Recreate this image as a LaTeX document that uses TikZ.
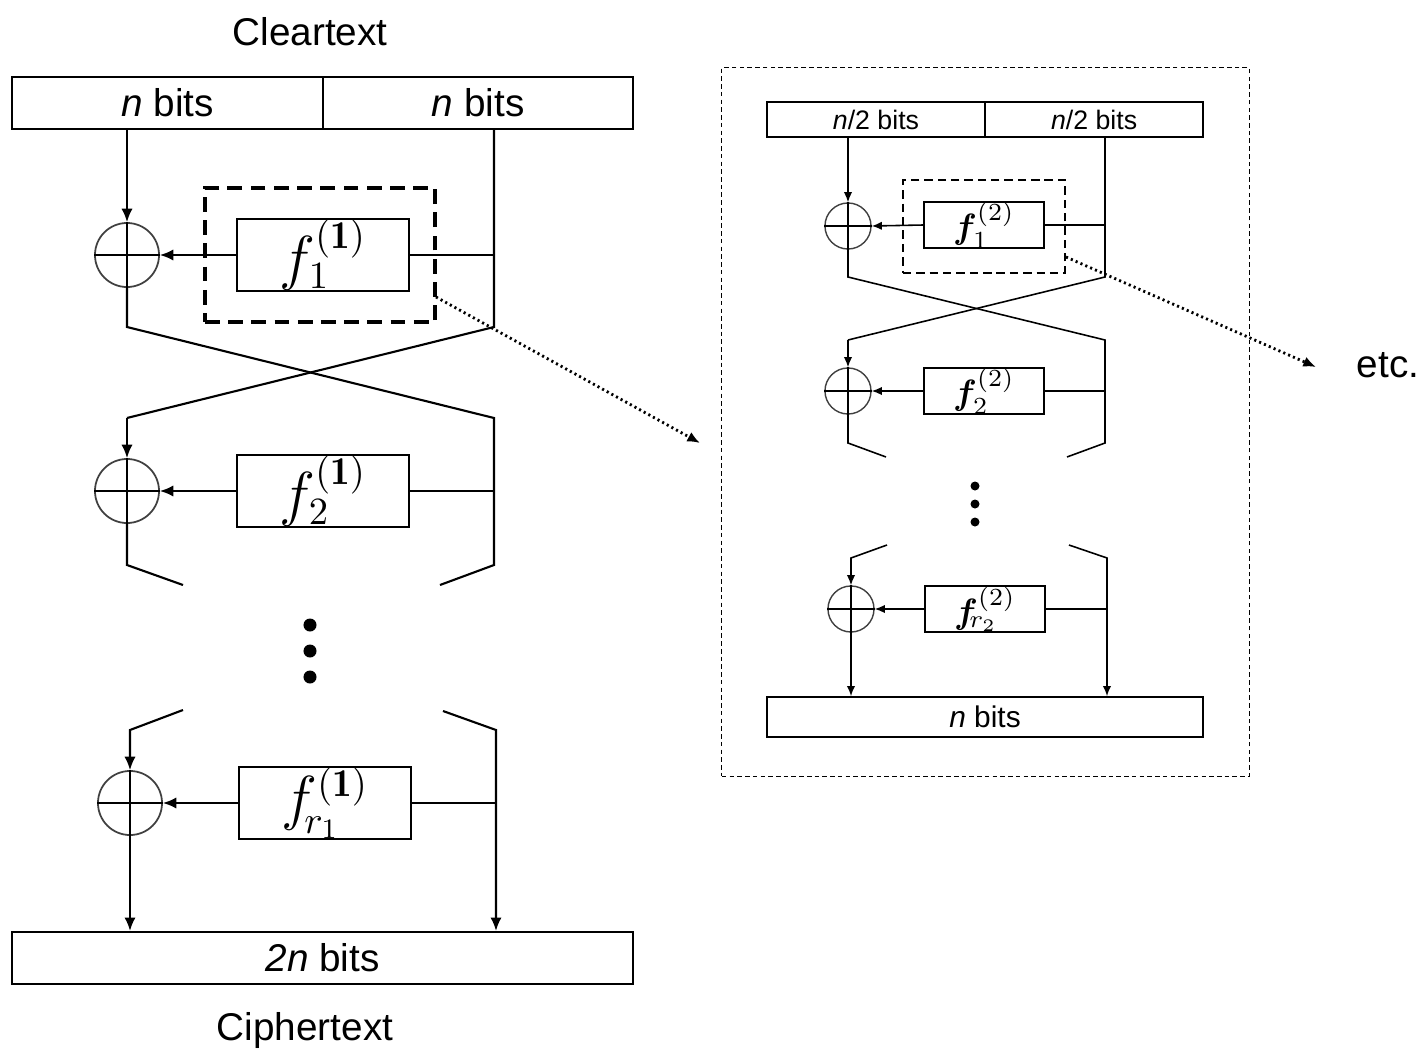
\documentclass[tikz,border=0pt]{standalone}
\usepackage{fontspec}
\usepackage{bm}
\newfontfamily\arial{Liberation Sans}
\usetikzlibrary{arrows, arrows.meta, positioning}
\tikzset{>={Latex[length=3.8pt, width=3.2pt]}, % filled arrow heads as in the figure
bitbox/.style={ % register of bits
draw, inner sep=0pt, minimum height=0.52cm,
font=\arial\fontsize{11}{13}\selectfont},
smallbits/.style={bitbox, minimum height=0.35cm, line width=0.45pt,
font=\arial\fontsize{7.6}{9}\selectfont},
fbox/.style={ % round function
draw, inner sep=0pt, minimum width=1.72cm, minimum height=0.66cm,
font=\fontsize{16}{18}\selectfont},
smallf/.style={fbox, minimum width=1.20cm, minimum height=0.46cm,
line width=0.45pt, font=\fontsize{10}{12}\selectfont},
xor/.style={ % exclusive or
circle, draw=black!75, line width=0.5pt, inner sep=0pt, minimum size=0.64cm},
smallxor/.style={xor, minimum size=0.46cm, line width=0.4pt},
zoombox/.style={draw, dash pattern=on 4.2pt off 2.4pt, line width=1.1pt}, % the box that is blown up
smallzoom/.style={draw, dash pattern=on 2.4pt off 1.4pt, line width=0.7pt},
frame/.style={draw, dash pattern=on 1.3pt off 0.9pt, line width=0.35pt},
dotarrow/.style={-{Latex[length=3.6pt, width=3pt]}, dash pattern=on 0.6pt off 0.9pt, line width=0.8pt},
dotn/.style={circle, fill, inner sep=0pt, minimum size=0.12cm},
label/.style={font=\arial\fontsize{11}{13}\selectfont}}

\begin{document}
\begin{tikzpicture}[x=0.01cm, y=-0.01cm, line width=0.6pt]
    \useasboundingbox (0,0) rectangle (1426,1054);
    \node[label] (clear) at (310,32) {Cleartext};
    \node[bitbox, minimum width=3.11cm] (l1) at (167.5,103) {\textit{n} bits};
    \node[bitbox, minimum width=3.10cm, right=-0.6pt of l1] (r1) {\textit{n} bits};
    \node[xor] (x1) at (127,255) {};
    \node[fbox, right=0.76cm of x1] (f1) {$f_{1}^{\mathbf{(1)}}$};
    \node[zoombox, minimum width=2.30cm, minimum height=1.34cm] (d1) at (320,255) {};
    \node[xor] (x2) at (127,491) {};
    \node[fbox, right=0.76cm of x2] (f2) {$f_{2}^{\mathbf{(1)}}$};
    \foreach \i/\y in {1/625, 2/651, 3/677}
        \node[dotn, minimum size=0.13cm] (ld\i) at (310,\y) {};
    \node[xor] (x3) at (130,803) {};
    \node[fbox, right=0.75cm of x3] (f3) {$f_{\!r_1}^{\mathbf{(1)}}$};
    \node[bitbox, minimum width=6.21cm] (o1) at (322.5,958) {\textit{2n} bits};
    \node[label] (cipher) at (305,1030) {Ciphertext};
    \coordinate (a1) at (127,327);
    \coordinate (b1) at (494,327);
    \coordinate (a2) at (127,418);
    \coordinate (b2) at (494,418);
    \coordinate (a3) at (127,565);
    \coordinate (a3e) at (183,585);
    \coordinate (b3) at (494,565);
    \coordinate (b3e) at (440,585);
    \coordinate (a4s) at (183,710);
    \coordinate (a4) at (130,730);
    \coordinate (b4s) at (443,711);
    \coordinate (b4) at (496,730);
    \draw[->] (l1.south -| x1) -- (x1.north);
    \draw (x1.south) -- (a1) -- (b2) -- (b3) -- (b3e);
    \draw (r1.south -| b1) -- (b1) -- (a2);
    \draw[->] (a2) -- (x2.north);
    \draw (x2.south) -- (a3) -- (a3e);
    \draw[->] (a4s) -- (a4) -- (x3.north);
    \draw[->] (x3.south) -- (x3.south |- o1.north);
    \draw[->] (b4s) -- (b4) -- (b4 |- o1.north);
    \draw[->] (f1.west) -- (x1.east);
    \draw[->] (f2.west) -- (x2.east);
    \draw[->] (f3.west) -- (x3.east);
    \draw (f1.east) -- (f1.east -| b1);
    \draw (f2.east) -- (f2.east -| b2);
    \draw (f3.east) -- (f3.east -| b4);
    \foreach \n in {x1, x2, x3}
        \draw[line width=0.5pt] (\n.west) -- (\n.east) (\n.north) -- (\n.south);
    \begin{scope}[line width=0.45pt, >={Latex[length=2.9pt, width=2.4pt]}]
    \node[frame, minimum width=5.27cm, minimum height=7.08cm] (big) at (985.5,422) {};
    \node[smallbits, minimum width=2.18cm] (tl) at (876,119.5) {\textit{n}/2 bits};
    \node[smallbits, minimum width=2.18cm, right=-0.45pt of tl] (tr) {\textit{n}/2 bits};
    \node[smallxor] (rx1) at (848,226) {};
    \node[smallf] (rf1) at (984,225) {$\bm{f}_{1}^{(2)}$};
    \node[smallzoom, minimum width=1.62cm, minimum height=0.93cm] (rd1) at (984,226.5) {};
    \node[smallxor] (rx2) at (848,391) {};
    \node[smallf] (rf2) at (984,391) {$\bm{f}_{2}^{(2)}$};
    \foreach \i/\y in {1/486, 2/504, 3/522}
        \node[dotn, minimum size=0.09cm] (rd\i) at (975,\y) {};
    \node[smallxor] (rx3) at (851,609) {};
    \node[smallf] (rf3) at (985,609) {$\bm{f}_{\!r_2}^{(2)}$};
    \node[smallbits, minimum width=4.36cm, minimum height=0.40cm,
        font=\arial\fontsize{8.5}{10}\selectfont] (ro) at (985,717) {\textit{n} bits};
    \coordinate (ra1) at (848,277);
    \coordinate (rb1) at (1105,277);
    \coordinate (ra2) at (848,340);
    \coordinate (rb2) at (1105,340);
    \coordinate (ra3) at (848,443);
    \coordinate (ra3e) at (886,457);
    \coordinate (rb3) at (1105,443);
    \coordinate (rb3e) at (1067,457);
    \coordinate (ra4s) at (887,545);
    \coordinate (ra4) at (851,558);
    \coordinate (rb4s) at (1069,545);
    \coordinate (rb4) at (1107,558);
    \draw[->] (tl.south -| rx1) -- (rx1.north);
    \draw (rx1.south) -- (ra1) -- (rb2) -- (rb3) -- (rb3e);
    \draw (tr.south -| rb1) -- (rb1) -- (ra2);
    \draw[->] (ra2) -- (rx2.north);
    \draw (rx2.south) -- (ra3) -- (ra3e);
    \draw[->] (ra4s) -- (ra4) -- (rx3.north);
    \draw[->] (rx3.south) -- (rx3.south |- ro.north);
    \draw[->] (rb4s) -- (rb4) -- (rb4 |- ro.north);
    \draw[->] (rf1.west) -- (rx1.east);
    \draw[->] (rf2.west) -- (rx2.east);
    \draw[->] (rf3.west) -- (rx3.east);
    \draw (rf1.east) -- (rf1.east -| rb1);
    \draw (rf2.east) -- (rf2.east -| rb2);
    \draw (rf3.east) -- (rf3.east -| rb4);
    \foreach \n in {rx1, rx2, rx3}
        \draw[line width=0.4pt] (\n.west) -- (\n.east) (\n.north) -- (\n.south);
    \end{scope}
    \node[label] (etc) at (1388,365) {etc.};
    \coordinate (z1) at (436,297);
    \coordinate (z2) at (700,443);
    \coordinate (z3) at (1066,257);
    \coordinate (z4) at (1316,367);
    \draw[dotarrow] (z1) -- (z2);
    \draw[dotarrow] (z3) -- (z4);
\end{tikzpicture}
\end{document}
